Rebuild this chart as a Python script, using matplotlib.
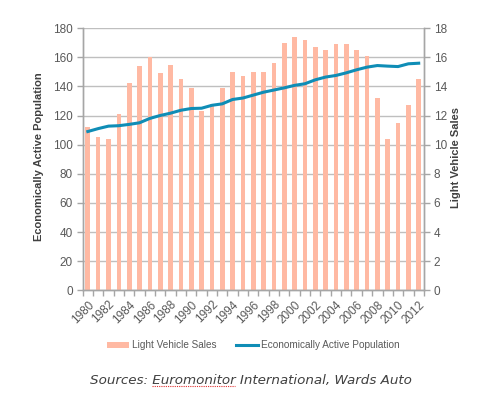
import matplotlib
matplotlib.use("Agg")
import matplotlib.pyplot as plt
import numpy as np
from matplotlib.patches import Patch
from matplotlib.lines import Line2D

years = list(range(1980, 2013))
sales = [11.2, 10.5, 10.4, 12.1, 14.2, 15.4, 16.0, 14.9, 15.5, 14.5, 13.9,
         12.3, 12.8, 13.9, 15.0, 14.7, 15.0, 15.0, 15.6, 17.0, 17.4, 17.2,
         16.7, 16.5, 16.9, 16.9, 16.5, 16.1, 13.2, 10.4, 11.5, 12.7, 14.5]
population = [109.0, 111.0, 112.7, 113.0, 113.9, 115.0, 118.0, 120.0, 121.6,
              123.6, 124.8, 125.0, 127.0, 128.0, 131.0, 132.0, 134.0, 136.0,
              137.5, 139.0, 140.7, 141.8, 144.5, 146.4, 147.5, 149.3, 151.4,
              153.2, 154.3, 153.9, 153.6, 155.5, 155.9]
left_ticks = list(range(0, 181, 20))
right_ticks = list(range(0, 19, 2))

bar_color = "#FFB9A3"
line_color = "#0F8DB6"
grey_txt = "#595959"
grid_col = "#BFBFBF"

plt.rcParams["font.family"] = ["Liberation Sans", "DejaVu Sans"]

fig = plt.figure(figsize=(5.04, 3.96), dpi=100)
ax = fig.add_axes([0.164, 0.267, 0.677, 0.662])
x = np.arange(len(years))

ax.bar(x, sales, width=0.45, color=bar_color, zorder=2)
ax.set_ylim(0, 18)
ax.set_yticks(right_ticks)
ax.set_xlim(-0.5, len(years) - 0.5)
ax.grid(axis="y", color=grid_col, linewidth=1.0, zorder=0)
ax.set_axisbelow(True)

ax2 = ax.twinx()
ax2.plot(x, population, color=line_color, linewidth=2.2, zorder=3)
ax2.set_ylim(0, 180)
ax2.set_yticks(left_ticks)
ax2.yaxis.tick_left()
ax2.yaxis.set_label_position("left")
ax.yaxis.tick_right()
ax.yaxis.set_label_position("right")

for a in (ax, ax2):
    a.spines["top"].set_visible(False)
    for s in ("left", "right", "bottom"):
        a.spines[s].set_color("#A6A6A6")
        a.spines[s].set_linewidth(1.0)
    a.tick_params(axis="y", colors="#A6A6A6", labelcolor=grey_txt,
                  labelsize=8.5, length=4, width=1.0, pad=3)

# x ticks: labels at even years, tick marks at category boundaries
ax.set_xticks(x[::2])
ax.set_xticklabels([str(y) for y in years[::2]], rotation=45, ha="right",
                   rotation_mode="anchor", color=grey_txt, fontsize=8.5)
ax.tick_params(axis="x", which="major", length=0, pad=6)
ax.set_xticks(np.arange(-0.5, len(years), 1.0), minor=True)
ax.tick_params(axis="x", which="minor", length=4, width=1.0, colors="#A6A6A6")

ax2.set_ylabel("Economically Active Population", fontsize=8.0,
               fontweight="bold", color="#404040")
ax2.yaxis.set_label_coords(-0.114, 0.51)
ax.set_ylabel("Light Vehicle Sales", fontsize=8.0, fontweight="bold",
              color="#404040")
ax.yaxis.set_label_coords(1.079, 0.505)

# legend
handles = [Patch(facecolor=bar_color, edgecolor="none"),
           Line2D([0], [0], color=line_color, linewidth=2.2)]
fig.legend(handles, ["Light Vehicle Sales", "Economically Active Population"],
           loc="center", bbox_to_anchor=(0.503, 0.128), ncol=2, frameon=False,
           fontsize=7.2, labelcolor=grey_txt, handlelength=2.2,
           handleheight=0.6, columnspacing=2.0, handletextpad=0.25)

# source line
src_kw = dict(fontsize=9.7, style="italic", family="DejaVu Sans")
full = "Sources: Euromonitor International, Wards Auto"
t = fig.text(0.497, 0.038, full, ha="center", va="center",
             color="#404040", **src_kw)
r = fig.canvas.get_renderer()
bb = t.get_window_extent(r)


def text_width(s):
    tt = fig.text(0, 0, s, **src_kw)
    w = tt.get_window_extent(r).width
    tt.remove()
    return w


w_pre = text_width("Sources: Euromonitor") - text_width("Euromonitor")
w_word = text_width("Euromonitor")
x0 = bb.x0 + w_pre
x1 = x0 + w_word
yy = bb.y0 + 1
inv = fig.transFigure.inverted()
(fx0, fy), (fx1, _) = inv.transform([(x0, yy), (x1, yy)])
fig.add_artist(Line2D([fx0, fx1], [fy, fy], transform=fig.transFigure,
                      color="#E03030", linewidth=0.8,
                      linestyle=(0, (1, 1))))

fig.savefig("out.png", dpi=100)
